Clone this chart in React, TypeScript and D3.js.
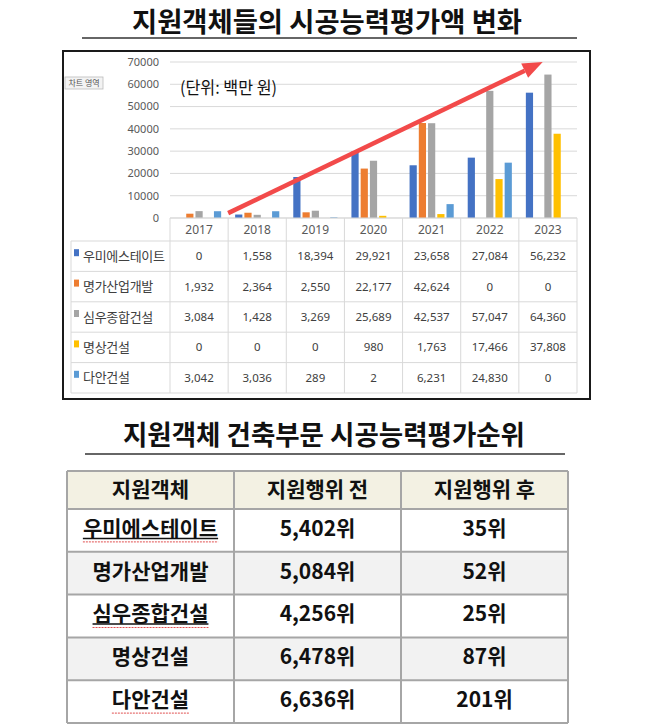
import React from "react";
import * as d3 from "d3";

const years = ["2017", "2018", "2019", "2020", "2021", "2022", "2023"];
const companies = ["우미에스테이트", "명가산업개발", "심우종합건설", "명상건설", "다안건설"];
const colors = ["#4472C4", "#ED7D31", "#A5A5A5", "#FFC000", "#5B9BD5"];

// 시공능력평가액 (백만 원)
const umi = [0, 1558, 18394, 29921, 23658, 27084, 56232];
const myeongga = [1932, 2364, 2550, 22177, 42624, 0, 0];
const simwoo = [3084, 1428, 3269, 25689, 42537, 57047, 64360];
const myeongsang = [0, 0, 0, 980, 1763, 17466, 37808];
const daan = [3042, 3036, 289, 2, 6231, 24830, 0];
const series = [umi, myeongga, simwoo, myeongsang, daan];

const yTicks = [0, 10000, 20000, 30000, 40000, 50000, 60000, 70000];

// 순위 표
const rankHeaders = ["지원객체", "지원행위 전", "지원행위 후"];
const rankBefore = [5402, 5084, 4256, 6478, 6636];
const rankAfter = [35, 52, 25, 87, 201];
const blackUnderline = [true, false, true, false, false];
const spellUnderline = [true, false, true, false, true];

// 추세 화살표 (연도, 구간 내 비율, 값)
const arrowFrom = { year: "2018", frac: 0, value: 2200 };
const arrowTo = { year: "2023", frac: 0.41, value: 70000 };

const KR = "'Noto Sans CJK KR', 'Noto Sans', sans-serif";
const fmt = d3.format(",");

const App: React.FC = () => {
  const width = 650;
  const height = 726;

  const x = d3.scaleBand<string>().domain(years).range([170, 577]);
  const inner = d3
    .scaleBand<string>()
    .domain(companies)
    .range([7, x.bandwidth() - 7])
    .paddingInner(0.22);
  const y = d3.scaleLinear().domain([0, 70000]).range([218, 62]);

  // data table rows under the chart
  const rowY = d3.scaleBand<string>().domain(companies).range([241, 393]);

  // arrow geometry
  const ax1 = (x(arrowFrom.year) as number) + arrowFrom.frac * x.bandwidth();
  const ay1 = y(arrowFrom.value);
  const ax2 = (x(arrowTo.year) as number) + arrowTo.frac * x.bandwidth();
  const ay2 = y(arrowTo.value);
  const ang = Math.atan2(ay2 - ay1, ax2 - ax1);
  const headLen = 20;
  const headW = 8;
  const bx = ax2 - headLen * Math.cos(ang);
  const by = ay2 - headLen * Math.sin(ang);
  const head = [
    [ax2, ay2],
    [bx + headW * Math.sin(ang), by - headW * Math.cos(ang)],
    [bx - headW * Math.sin(ang), by + headW * Math.cos(ang)],
  ];

  // rank table
  const col = d3.scaleBand<string>().domain(rankHeaders).range([67, 568]);
  const rRow = d3.scaleBand<string>().domain(companies).range([509, 723]);
  const headerTop = 471;
  const tFont = 21;

  return (
    <svg
      width={width}
      height={height}
      style={{ position: "absolute", left: 0, top: 0, background: "#fff" }}
    >
      {/* Title 1 */}
      <text
        x={327}
        y={32}
        textAnchor="middle"
        fontFamily={KR}
        fontWeight={700}
        fontSize={27}
        textLength={390}
        lengthAdjust="spacingAndGlyphs"
        fill="#111"
      >
        지원객체들의 시공능력평가액 변화
      </text>
      <line x1={82} x2={577} y1={38} y2={38} stroke="#333" strokeWidth={1.5} />

      {/* chart frame */}
      <rect x={63} y={51} width={527} height={348} fill="#fff" stroke="#1a1a1a" strokeWidth={2} />

      {/* 차트 영역 tag */}
      <rect x={65} y={77} width={38} height={12} fill="#f3f3f3" stroke="#bbb" strokeWidth={0.8} />
      <text x={84} y={86} textAnchor="middle" fontFamily={KR} fontSize={8} fill="#555">
        차트 영역
      </text>

      {/* gridlines and y ticks */}
      {yTicks.map((t) => (
        <g key={t}>
          <line x1={170} x2={577} y1={y(t)} y2={y(t)} stroke="#D9D9D9" strokeWidth={1} />
          <text
            x={159}
            y={y(t)}
            dy="0.35em"
            textAnchor="end"
            fontFamily="'Noto Sans', sans-serif"
            fontSize={11}
            fill="#595959"
          >
            {t}
          </text>
        </g>
      ))}

      {/* unit label */}
      <text
        x={180}
        y={88}
        dy="0.35em"
        fontFamily={KR}
        fontSize={17}
        textLength={97}
        lengthAdjust="spacingAndGlyphs"
        fill="#111"
      >
        (단위: 백만 원)
      </text>

      {/* bars */}
      {series.map((vals, si) =>
        vals.map((v, yi) => (
          <rect
            key={`${si}-${yi}`}
            x={(x(years[yi]) as number) + (inner(companies[si]) as number)}
            y={y(v)}
            width={inner.bandwidth()}
            height={y(0) - y(v)}
            fill={colors[si]}
          />
        ))
      )}

      {/* data table */}
      <g stroke="#D9D9D9" strokeWidth={1}>
        {years.map((yr) => (
          <line key={yr} x1={x(yr) as number} x2={x(yr) as number} y1={218} y2={393} />
        ))}
        <line x1={577} x2={577} y1={218} y2={393} />
        <line x1={71} x2={71} y1={241} y2={393} />
        {companies.map((c) => (
          <line key={c} x1={71} x2={577} y1={rowY(c) as number} y2={rowY(c) as number} />
        ))}
        <line x1={71} x2={577} y1={393} y2={393} />
      </g>
      <line x1={170} x2={577} y1={218} y2={218} stroke="#D9D9D9" />

      {years.map((yr) => (
        <text
          key={yr}
          x={(x(yr) as number) + x.bandwidth() / 2}
          y={229.5}
          dy="0.35em"
          textAnchor="middle"
          fontFamily="'Noto Sans', sans-serif"
          fontSize={12}
          fill="#595959"
        >
          {yr}
        </text>
      ))}

      {companies.map((c, si) => {
        const cy = (rowY(c) as number) + rowY.bandwidth() / 2;
        return (
          <g key={c}>
            <rect x={74} y={cy - 7} width={5} height={7} fill={colors[si]} />
            <text
              x={83}
              y={cy}
              dy="0.35em"
              fontFamily={KR}
              fontSize={13}
              letterSpacing={-0.3}
              fill="#404040"
            >
              {c}
            </text>
            {series[si].map((v, yi) => (
              <text
                key={yi}
                x={(x(years[yi]) as number) + x.bandwidth() / 2}
                y={cy}
                dy="0.35em"
                textAnchor="middle"
                fontFamily="'Noto Sans', sans-serif"
                fontSize={11.5}
                fill="#404040"
              >
                {fmt(v)}
              </text>
            ))}
          </g>
        );
      })}

      {/* trend arrow */}
      <line x1={ax1} y1={ay1} x2={bx} y2={by} stroke="#F24A4A" strokeWidth={4.5} />
      <polygon points={head.map((p) => p.join(",")).join(" ")} fill="#F24A4A" />

      {/* Title 2 */}
      <text
        x={324}
        y={445}
        textAnchor="middle"
        fontFamily={KR}
        fontWeight={700}
        fontSize={27}
        textLength={402}
        lengthAdjust="spacingAndGlyphs"
        fill="#111"
      >
        지원객체 건축부문 시공능력평가순위
      </text>
      <line x1={85} x2={565} y1={454} y2={454} stroke="#333" strokeWidth={1.5} />

      {/* rank table */}
      <rect x={67} y={headerTop} width={501} height={509 - headerTop} fill="#F3F1E3" />
      {companies.map((c, i) => (
        <rect
          key={c}
          x={67}
          y={rRow(c) as number}
          width={501}
          height={rRow.bandwidth()}
          fill={i % 2 === 1 ? "#F2F2F2" : "#FFFFFF"}
        />
      ))}
      <g stroke="#A6A6A6" strokeWidth={2}>
        <line x1={67} x2={568} y1={headerTop} y2={headerTop} />
        <line x1={67} x2={568} y1={509} y2={509} />
        {companies.map((c) => (
          <line
            key={c}
            x1={67}
            x2={568}
            y1={(rRow(c) as number) + rRow.bandwidth()}
            y2={(rRow(c) as number) + rRow.bandwidth()}
          />
        ))}
        {rankHeaders.map((h) => (
          <line key={h} x1={col(h) as number} x2={col(h) as number} y1={headerTop} y2={723} />
        ))}
        <line x1={568} x2={568} y1={headerTop} y2={723} />
      </g>

      {rankHeaders.map((h) => (
        <text
          key={h}
          x={(col(h) as number) + col.bandwidth() / 2}
          y={(headerTop + 509) / 2}
          dy="0.35em"
          textAnchor="middle"
          fontFamily={KR}
          fontWeight={600}
          fontSize={tFont}
          fill="#111"
        >
          {h}
        </text>
      ))}

      {companies.map((c, i) => {
        const cy = (rRow(c) as number) + rRow.bandwidth() / 2 - 2;
        const cx0 = (col(rankHeaders[0]) as number) + col.bandwidth() / 2;
        const nameW = c.length * tFont * 0.92;
        return (
          <g key={c} fontFamily={KR} fontWeight={600} fontSize={tFont} fill="#111">
            <text x={cx0} y={cy} dy="0.35em" textAnchor="middle">
              {c}
            </text>
            {blackUnderline[i] && (
              <line
                x1={cx0 - nameW / 2}
                x2={cx0 + nameW / 2}
                y1={cy + 10}
                y2={cy + 10}
                stroke="#111"
                strokeWidth={1.5}
              />
            )}
            {spellUnderline[i] && (
              <line
                x1={cx0 - nameW / 2}
                x2={cx0 + nameW / 2}
                y1={cy + 13.5}
                y2={cy + 13.5}
                stroke="#E05050"
                strokeWidth={1}
                strokeDasharray="2 1"
              />
            )}
            <text
              x={(col(rankHeaders[1]) as number) + col.bandwidth() / 2}
              y={cy}
              dy="0.35em"
              textAnchor="middle"
            >
              {fmt(rankBefore[i])}위
            </text>
            <text
              x={(col(rankHeaders[2]) as number) + col.bandwidth() / 2}
              y={cy}
              dy="0.35em"
              textAnchor="middle"
            >
              {rankAfter[i]}위
            </text>
          </g>
        );
      })}
    </svg>
  );
};

export default App;
